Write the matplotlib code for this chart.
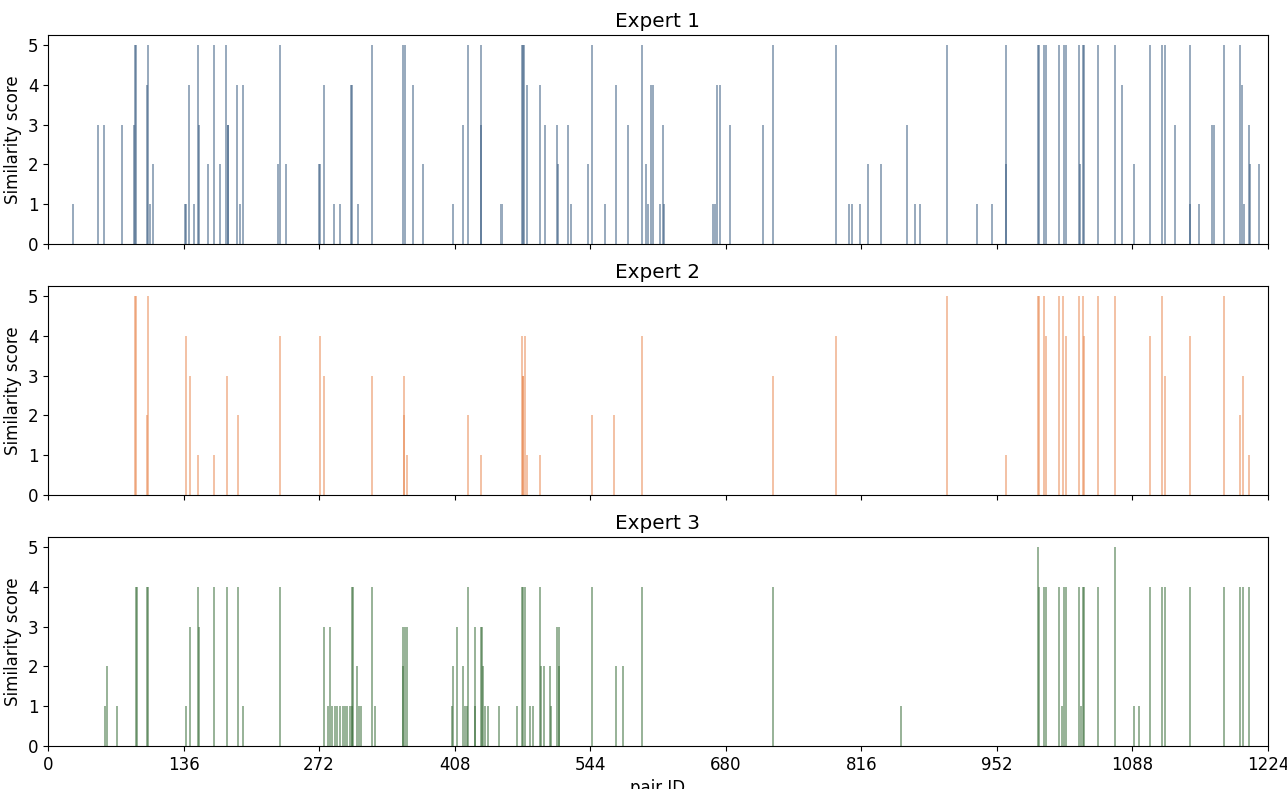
import matplotlib
matplotlib.use('Agg')
import matplotlib.pyplot as plt
import numpy as np

# pair IDs and scores for each expert
e1_ids = [25, 50, 56, 74, 86, 87, 88, 99, 100, 102, 105, 137, 138, 141, 146, 150, 151,
          161, 167, 173, 179, 181, 181, 190, 193, 196, 231, 233, 239, 272, 273, 277, 287,
          293, 304, 305, 311, 325, 356, 358, 366, 376, 406, 416, 421, 434, 434, 454, 456,
          476, 477, 478, 481, 494, 499, 511, 512, 522, 525, 542, 546, 559, 570, 582,
          596, 600, 602, 605, 607, 614, 617, 618, 667, 669, 671, 674, 684, 717, 727,
          791, 804, 807, 815, 823, 836, 862, 870, 875, 902, 932, 947, 961, 961, 993,
          994, 999, 1001, 1014, 1019, 1021, 1034, 1035, 1038, 1039, 1053, 1071, 1078,
          1090, 1106, 1118, 1121, 1131, 1146, 1146, 1155, 1168, 1170, 1180, 1196, 1198,
          1200, 1205, 1206, 1215]
e1_scores = [1, 3, 3, 3, 3, 5, 5, 4, 5, 1, 2, 1, 1, 4, 1, 5, 3,
             2, 5, 2, 5, 3, 3, 4, 1, 4, 2, 5, 2, 2, 2, 4, 1,
             1, 4, 4, 1, 5, 5, 5, 4, 2, 1, 3, 5, 5, 3, 1, 1,
             5, 5, 5, 4, 4, 3, 3, 2, 3, 1, 2, 5, 1, 4, 3,
             5, 2, 1, 4, 4, 1, 3, 1, 1, 1, 4, 4, 3, 3, 5,
             5, 1, 1, 1, 2, 2, 3, 1, 1, 5, 1, 1, 5, 2, 5,
             5, 5, 5, 5, 5, 5, 5, 2, 5, 5, 5, 5, 4,
             2, 5, 5, 5, 3, 5, 1, 1, 3, 3, 5, 5, 4,
             1, 3, 2, 2]

e2_ids = [87, 88, 99, 100, 138, 142, 150, 167, 180, 191, 233, 273, 277, 325, 357, 357,
          360, 421, 434, 476, 477, 477, 479, 481, 494, 546, 568, 596, 727, 791, 902,
          961, 993, 994, 999, 1001, 1014, 1018, 1021, 1034, 1038, 1039, 1053, 1071,
          1106, 1118, 1121, 1146, 1180, 1196, 1199, 1205]
e2_scores = [5, 5, 2, 5, 4, 3, 1, 1, 3, 2, 4, 4, 3, 3, 2, 3,
             1, 2, 1, 4, 3, 3, 4, 1, 1, 2, 2, 4, 3, 4, 5,
             1, 5, 5, 5, 4, 5, 5, 4, 5, 5, 4, 5, 5,
             4, 5, 3, 4, 5, 2, 3, 1]

e3_ids = [57, 59, 69, 88, 89, 99, 100, 138, 142, 150, 151, 167, 180, 191, 196, 233, 277,
          281, 283, 285, 288, 290, 293, 296, 298, 300, 303, 305, 305, 306, 310, 312, 314,
          325, 328, 356, 356, 358, 360, 405, 406, 410, 416, 418, 420, 421, 428, 428, 434,
          435, 436, 438, 441, 452, 471, 476, 477, 479, 484, 487, 494, 495, 498, 504,
          505, 511, 513, 513, 546, 570, 577, 596, 727, 856, 993, 994, 999, 1001, 1014,
          1017, 1019, 1021, 1034, 1036, 1038, 1039, 1053, 1071, 1090, 1095, 1106, 1118,
          1121, 1146, 1180, 1196, 1199, 1205]
e3_scores = [1, 2, 1, 4, 4, 4, 4, 1, 3, 4, 3, 4, 4, 4, 1, 4, 3,
             1, 3, 1, 1, 1, 1, 1, 1, 1, 1, 4, 1, 4, 2, 1, 1,
             4, 1, 2, 3, 3, 3, 1, 2, 3, 2, 1, 1, 4, 3, 1, 3,
             3, 2, 1, 1, 1, 1, 4, 4, 4, 1, 1, 4, 2, 2, 2,
             1, 3, 3, 2, 4, 2, 2, 4, 4, 1, 5, 4, 4, 4, 4,
             1, 4, 4, 4, 1, 4, 4, 4, 5, 1, 1, 4, 4,
             4, 4, 4, 4, 4, 4]

experts = ['Expert 1', 'Expert 2', 'Expert 3']
ids = [e1_ids, e2_ids, e3_ids]
scores = [e1_scores, e2_scores, e3_scores]
colors = ['#34587f', '#e8874f', '#356b35']

plt.rcParams['font.size'] = 12

fig, axes = plt.subplots(3, 1, sharex=True, figsize=(12.87, 7.89), dpi=100)
fig.subplots_adjust(left=0.0373, right=0.9852, top=0.9556, bottom=0.0545, hspace=0.2)

for ax, name, x, y, c in zip(axes, experts, ids, scores, colors):
    ax.bar(x, y, width=2.0, color=c, alpha=0.5, linewidth=0)
    ax.set_title(name)
    ax.set_ylabel('Similarity score')
    ax.set_yticks(range(6))

axes[2].set_xlim(0, 1224)
axes[2].set_xticks(np.arange(0, 1225, 136))
axes[2].set_xlabel('pair ID')

fig.savefig('out.png', dpi=100)
